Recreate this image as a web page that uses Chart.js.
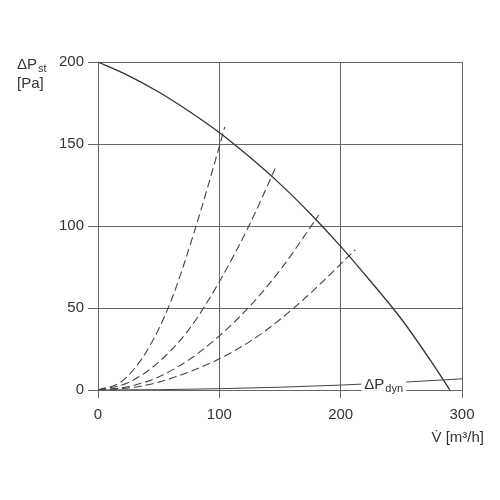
<!DOCTYPE html>
<html><head><meta charset="utf-8">
<script src="https://cdn.jsdelivr.net/npm/chart.js@4/dist/chart.umd.min.js"></script>
<style>html,body{margin:0;padding:0;background:#fff}#wrap{width:500px;height:500px}</style>
</head><body><div id="wrap"><canvas id="c" width="500" height="500"></canvas></div>
<script>
// Fan curve (static pressure) [V m3/h, dPst Pa]
const fanX = [0, 25, 50, 75, 100, 125, 150, 175, 200, 225, 250, 275, 290];
const fanY = [200, 191.7, 181.7, 170, 157, 142, 125.7, 107.5, 87.6, 66, 43.3, 17, 0];
// System (dashed) curves
const sys1X = [0, 20, 40, 60, 80, 100, 104.5];
const sys1Y = [0, 5.5, 23.5, 54, 98, 148.5, 160.5];
const sys2X = [0, 25, 50, 75, 100, 125, 146];
const sys2Y = [0, 4.5, 17, 37, 66, 101, 135];
const sys3X = [0, 25, 50, 75, 100, 125, 150, 182];
const sys3Y = [0, 2, 8, 18.5, 33, 51, 73, 106.7];
const sys4X = [0, 25, 50, 75, 100, 125, 150, 175, 212];
const sys4Y = [0, 1.2, 4.8, 11, 19, 29.5, 43, 59, 85.5];
// Dynamic pressure line
const dynX = [0, 50, 100, 150, 200, 250, 300];
const dynY = [0, 0.2, 0.8, 1.7, 3, 4.7, 6.8];
// Ticks
const xTicks = [0, 100, 200, 300];
const yTicks = [0, 50, 100, 150, 200];

const pts = (xs, ys) => xs.map((x, i) => ({x: x, y: ys[i]}));
const FONT = '"Liberation Sans", Arial, sans-serif';
const TXT = '#333';
const dashStyle = {borderColor: '#444', borderWidth: 1.1, borderDash: [8, 4], pointRadius: 0, tension: 0.4, cubicInterpolationMode: 'monotone', fill: false};

const labelsPlugin = {
  id: 'labels',
  afterDatasetsDraw(chart) {
    const ctx = chart.ctx;
    const xs = chart.scales.x, ys = chart.scales.y;
    ctx.save();
    ctx.textBaseline = 'alphabetic';
    ctx.textAlign = 'left';
    // ΔPdyn label with white background over the line
    const lx = xs.getPixelForValue(219.5), ly = ys.getPixelForValue(2.5);
    ctx.fillStyle = '#fff';
    ctx.fillRect(lx - 3, ly - 11, 45, 16);
    ctx.fillStyle = TXT;
    ctx.font = '15px ' + FONT;
    ctx.fillText('ΔP', lx, ly + 3);
    let w = ctx.measureText('ΔP').width;
    ctx.font = '11px ' + FONT;
    ctx.fillText('dyn', lx + w + 1, ly + 6);
    ctx.restore();
  },
  afterDraw(chart) {
    const ctx = chart.ctx;
    ctx.save();
    ctx.fillStyle = TXT;
    ctx.textAlign = 'left';
    ctx.textBaseline = 'alphabetic';
    ctx.font = '15px ' + FONT;
    ctx.fillText('ΔP', 17, 69);
    const w = ctx.measureText('ΔP').width;
    ctx.font = '11px ' + FONT;
    ctx.fillText('st', 17 + w + 1, 72);
    ctx.font = '15px ' + FONT;
    ctx.fillText('[Pa]', 17, 88);
    ctx.textAlign = 'right';
    ctx.fillText('V\u0307 [m³/h]', 484, 442);
    ctx.restore();
  }
};

new Chart(document.getElementById('c'), {
  type: 'line',
  data: {
    datasets: [
      {data: pts(fanX, fanY), borderColor: '#333', borderWidth: 1.3, pointRadius: 0, tension: 0.4, cubicInterpolationMode: 'monotone', fill: false},
      Object.assign({data: pts(sys1X, sys1Y)}, dashStyle),
      Object.assign({data: pts(sys2X, sys2Y)}, dashStyle),
      Object.assign({data: pts(sys3X, sys3Y)}, dashStyle),
      Object.assign({data: pts(sys4X, sys4Y)}, dashStyle),
      {data: pts(dynX, dynY), borderColor: '#444', borderWidth: 1, pointRadius: 0, tension: 0.4, cubicInterpolationMode: 'monotone', fill: false}
    ]
  },
  options: {
    responsive: false,
    animation: false,
    layout: {padding: {left: 0, right: 38, top: 62, bottom: 60}},
    plugins: {legend: {display: false}, tooltip: {enabled: false}},
    scales: {
      x: {
        type: 'linear', min: 0, max: 300,
        afterBuildTicks: s => { s.ticks = xTicks.map(v => ({value: v})); },
        afterFit: s => { s.height = 50; },
        grid: {color: '#666', lineWidth: 1, tickLength: 8, drawTicks: true},
        border: {display: false},
        ticks: {color: TXT, font: {family: FONT, size: 15}, padding: 8}
      },
      y: {
        type: 'linear', min: 0, max: 200,
        afterBuildTicks: s => { s.ticks = yTicks.map(v => ({value: v})); },
        afterFit: s => { s.width = 98; },
        grid: {color: '#666', lineWidth: 1, tickLength: 10, drawTicks: true},
        border: {display: false},
        ticks: {color: TXT, font: {family: FONT, size: 15}, padding: 4}
      }
    }
  },
  plugins: [labelsPlugin]
});
</script>
</body></html>
